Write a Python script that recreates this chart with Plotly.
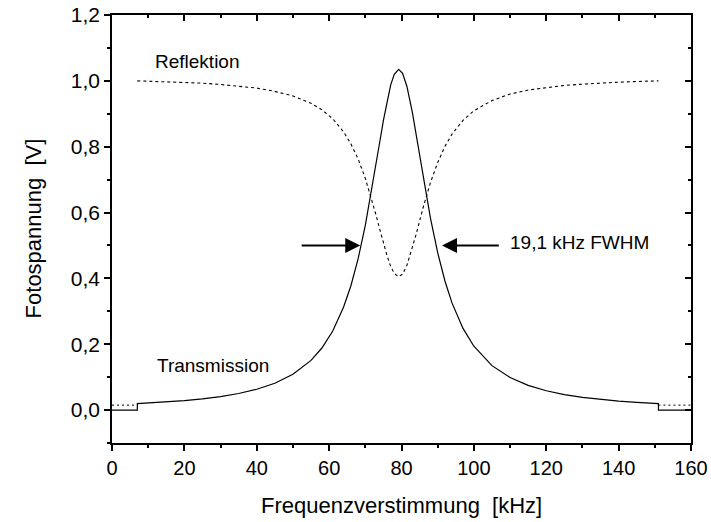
import plotly.graph_objects as go

# Transmission (solid)
trans_x = [0, 7, 7, 10, 15, 20, 25, 30, 35, 40, 45, 50, 55, 58, 61, 64, 66, 68, 70, 72, 73, 74, 75,
           76, 77, 78, 79.2, 80.3, 81.5, 83, 84, 85, 86, 88, 90, 92, 94, 97, 100, 105, 110, 115,
           120, 125, 130, 135, 140, 145, 151, 151, 160]
trans_y = [0.0, 0.0, 0.0195, 0.0212, 0.0245, 0.0287, 0.0341, 0.0411, 0.0504, 0.0632, 0.0815, 0.1086,
           0.151, 0.1885, 0.240, 0.313, 0.377, 0.459, 0.561, 0.682, 0.748, 0.815, 0.880,
           0.939, 0.987, 1.020, 1.035, 1.0226, 0.983, 0.904, 0.841, 0.774, 0.708, 0.583, 0.478,
           0.392, 0.324, 0.248, 0.194, 0.135, 0.0987, 0.0749, 0.0586, 0.0471, 0.0386, 0.0322,
           0.0273, 0.0234, 0.0197, 0.0, 0.0]

# Reflection (dotted)
refl_x = [7, 10, 15, 20, 25, 30, 35, 40, 45, 50, 55, 58, 61, 64, 66, 68, 70, 72, 73, 74, 75, 76,
          77, 78, 79.2, 80.3, 81.5, 83, 84, 85, 86, 88, 90, 92, 94, 97, 100, 105, 110, 115, 120,
          125, 130, 135, 140, 145, 151]
refl_y = [1.000, 0.999, 0.998, 0.995, 0.993, 0.989, 0.984, 0.978, 0.968, 0.954, 0.932, 0.912,
          0.885, 0.845, 0.809, 0.763, 0.704, 0.632, 0.591, 0.549, 0.5075, 0.469, 0.437, 0.415,
          0.405, 0.413, 0.440, 0.492, 0.532, 0.574, 0.616, 0.691, 0.752, 0.801, 0.839, 0.880,
          0.909, 0.940, 0.960, 0.972, 0.980, 0.986, 0.990, 0.994, 0.996, 0.998, 1.000]

# Reflection baseline segments outside the scan range
refl_floor_x = [0, 7, None, 151, 160]
refl_floor_y = [0.015, 0.015, None, 0.015, 0.015]

FONT = "Liberation Sans, Arial, sans-serif"

fig = go.Figure()
fig.add_trace(go.Scatter(x=trans_x, y=trans_y, mode="lines",
                         line=dict(color="black", width=1.2), showlegend=False))
fig.add_trace(go.Scatter(x=refl_x, y=refl_y, mode="lines",
                         line=dict(color="black", width=1.1, dash="3px,3px"), showlegend=False))
fig.add_trace(go.Scatter(x=refl_floor_x, y=refl_floor_y, mode="lines", connectgaps=False,
                         line=dict(color="black", width=1, dash="2px,3px"), showlegend=False))
# dummy trace for mirror axes
fig.add_trace(go.Scatter(x=[None], y=[None], xaxis="x2", yaxis="y2", showlegend=False))

axis_common = dict(showgrid=False, zeroline=False, showline=True, linecolor="black",
                   linewidth=1.5, tickcolor="black", tickwidth=1.5, automargin=False)

fig.update_layout(
    width=711, height=522,
    margin=dict(l=112, r=20, t=15, b=79),
    paper_bgcolor="white", plot_bgcolor="white",
    separators=",.",
    font=dict(family=FONT, color="black"),
    xaxis=dict(range=[0, 160], tick0=0, dtick=20, ticks="outside", ticklen=6,
               minor=dict(dtick=10, ticks="outside", ticklen=3, tickcolor="black", tickwidth=1.5),
               tickfont=dict(size=20, family=FONT), **axis_common),
    yaxis=dict(range=[-0.1, 1.2], tick0=0, dtick=0.2, tickformat=".1f", ticks="outside", ticklen=6,
               minor=dict(dtick=0.1, ticks="outside", ticklen=3, tickcolor="black", tickwidth=1.5),
               tickfont=dict(size=21, family=FONT), **axis_common),
    xaxis2=dict(range=[0, 160], overlaying="x", side="top", tick0=0, dtick=20, ticks="inside",
                ticklen=6, showticklabels=False,
                minor=dict(dtick=10, ticks="inside", ticklen=3, tickcolor="black", tickwidth=1.5),
                **axis_common),
    yaxis2=dict(range=[-0.1, 1.2], overlaying="y", side="right", tick0=0, dtick=0.2,
                ticks="inside", ticklen=6, showticklabels=False,
                minor=dict(dtick=0.1, ticks="inside", ticklen=3, tickcolor="black", tickwidth=1.5),
                **axis_common),
)

# axis titles
fig.add_annotation(x=0.5, y=-0.145, xref="paper", yref="paper", text="Frequenzverstimmung  [kHz]",
                   showarrow=False, xanchor="center", yanchor="middle",
                   font=dict(size=22, family=FONT))
fig.add_annotation(x=-0.136, y=0.502, xref="paper", yref="paper", text="Fotospannung  [V]",
                   showarrow=False, xanchor="center", yanchor="middle", textangle=-90,
                   font=dict(size=22, family=FONT))

fig.add_annotation(x=11.4, y=1.059, text="Reflektion", showarrow=False, xanchor="left",
                   yanchor="middle", font=dict(size=19, family=FONT))
fig.add_annotation(x=12.0, y=0.134, text="Transmission", showarrow=False, xanchor="left",
                   yanchor="middle", font=dict(size=19, family=FONT))
fig.add_annotation(x=109.5, y=0.508, text="19,1 kHz FWHM", showarrow=False, xanchor="left",
                   yanchor="middle", font=dict(size=19, family=FONT))
# FWHM arrows
fig.add_annotation(x=68.6, y=0.5, ax=52.0, ay=0.5, axref="x", ayref="y", xref="x", yref="y",
                   text="", showarrow=True, arrowhead=2, arrowsize=1.5, arrowwidth=2,
                   arrowcolor="black")
fig.add_annotation(x=91.2, y=0.5, ax=107.3, ay=0.5, axref="x", ayref="y", xref="x", yref="y",
                   text="", showarrow=True, arrowhead=2, arrowsize=1.5, arrowwidth=2,
                   arrowcolor="black")

fig.write_html("out.html")
